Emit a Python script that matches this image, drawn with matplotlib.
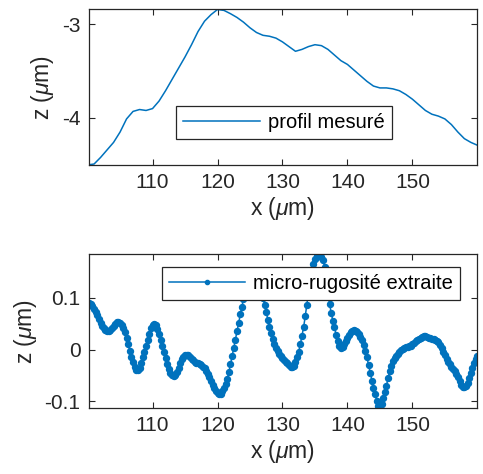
import numpy as np
import matplotlib
matplotlib.use("Agg")
import matplotlib.pyplot as plt

# ---- data ----
z_profile = [-4.50, -4.49, -4.42, -4.34, -4.26, -4.15, -4.01, -3.93, -3.91, -3.92,
             -3.90, -3.82, -3.71, -3.59, -3.47, -3.35, -3.22, -3.08, -2.97, -2.90,
             -2.845, -2.855, -2.89, -2.93, -2.98, -3.04, -3.09, -3.12, -3.13, -3.15,
             -3.19, -3.24, -3.29, -3.27, -3.24, -3.22, -3.23, -3.27, -3.33, -3.39,
             -3.43, -3.49, -3.55, -3.61, -3.66, -3.68, -3.68, -3.69, -3.71, -3.75,
             -3.80, -3.86, -3.92, -3.96, -3.98, -4.01, -4.07, -4.15, -4.22, -4.26,
             -4.29]
x_profile = 100 + 1.0 * np.arange(len(z_profile))

z_rough = [
    0.089, 0.090, 0.088, 0.084, 0.078, 0.072, 0.066, 0.059,      # 100-101.75
    0.052, 0.046, 0.041, 0.037, 0.035, 0.035, 0.037, 0.041,      # 102-103.75
    0.046, 0.050, 0.053, 0.054, 0.052, 0.048, 0.041, 0.033,      # 104-105.75
    0.022, 0.010, -0.002, -0.014, -0.025, -0.034, -0.039, -0.040,  # 106-107.75
    -0.035, -0.026, -0.015, -0.004, 0.007, 0.019, 0.031, 0.042,  # 108-109.75
    0.048, 0.050, 0.047, 0.040, 0.030, 0.019, 0.007, -0.005,     # 110-111.75
    -0.017, -0.028, -0.038, -0.046, -0.050, -0.052, -0.050, -0.044,  # 112-113.75
    -0.036, -0.027, -0.019, -0.014, -0.011, -0.010, -0.011, -0.014,  # 114-115.75
    -0.018, -0.021, -0.024, -0.026, -0.027, -0.028, -0.030, -0.033,  # 116-117.75
    -0.036, -0.041, -0.047, -0.054, -0.061, -0.068, -0.075, -0.081,  # 118-119.75
    -0.085, -0.087, -0.086, -0.081, -0.074, -0.066, -0.057, -0.044,  # 120-121.75
    -0.029, -0.013, 0.003, 0.019, 0.035, 0.052, 0.068, 0.083,    # 122-123.75
    0.097, 0.109, 0.118, 0.125, 0.130, 0.134, 0.136, 0.136,      # 124-125.75
    0.133, 0.128, 0.120, 0.111, 0.100, 0.087, 0.072, 0.058,      # 126-127.75
    0.044, 0.032, 0.021, 0.011, 0.003, -0.003, -0.008, -0.012,   # 128-129.75
    -0.016, -0.020, -0.024, -0.027, -0.030, -0.033, -0.034, -0.032,  # 130-131.75
    -0.025, -0.015, -0.004, 0.010, 0.026, 0.043, 0.064, 0.087,   # 132-133.75
    0.110, 0.131, 0.150, 0.165, 0.175, 0.181, 0.184, 0.184,      # 134-135.75
    0.180, 0.173, 0.160, 0.138, 0.112, 0.089, 0.071, 0.056,      # 136-137.75
    0.043, 0.029, 0.016, 0.006, 0.002, 0.004, 0.010, 0.017,      # 138-139.75
    0.023, 0.028, 0.033, 0.036, 0.037, 0.036, 0.034, 0.030,      # 140-141.75
    0.025, 0.018, 0.008, -0.003, -0.015, -0.030, -0.046, -0.061,  # 142-143.75
    -0.074, -0.086, -0.099, -0.109, -0.112, -0.106, -0.094, -0.082,  # 144-145.75
    -0.070, -0.056, -0.042, -0.031, -0.023, -0.017, -0.012, -0.008,  # 146-147.75
    -0.004, -0.001, 0.001, 0.003, 0.004, 0.005, 0.006, 0.007,    # 148-149.75
    0.010, 0.013, 0.016, 0.019, 0.021, 0.023, 0.025, 0.026,      # 150-151.75
    0.026, 0.024, 0.023, 0.022, 0.021, 0.020, 0.019, 0.017,      # 152-153.75
    0.014, 0.009, 0.002, -0.005, -0.011, -0.018, -0.024, -0.029,  # 154-155.75
    -0.034, -0.038, -0.042, -0.047, -0.054, -0.062, -0.068, -0.072,  # 156-157.75
    -0.073, -0.071, -0.064, -0.055, -0.046, -0.036, -0.027, -0.019,  # 158-159.75
    -0.012,                                                      # 160
]
x_rough = 100 + 0.25 * np.arange(len(z_rough))

xticks = [110, 120, 130, 140, 150]
yticks_top = [-4, -3]
yticks_bot = [-0.1, 0, 0.1]
ytick_labels_top = ["-4", "-3"]
ytick_labels_bot = ["-0.1", "0", "0.1"]

# ---- style ----
plt.rcParams['font.family'] = ['Liberation Sans', 'DejaVu Sans']
plt.rcParams['mathtext.fontset'] = 'custom'
plt.rcParams['mathtext.it'] = 'Liberation Sans:italic'
plt.rcParams['mathtext.rm'] = 'Liberation Sans'
plt.rcParams['axes.unicode_minus'] = False

blue = '#0072BD'
axcol = '#262626'
fs_tick = 15
fs_label = 16.5
fs_leg = 14.5

fig = plt.figure(figsize=(4.83, 4.74), dpi=100)
ax1 = fig.add_axes([0.184, 0.652, 0.803, 0.329])
ax2 = fig.add_axes([0.184, 0.139, 0.803, 0.325])

def style(ax):
    for s in ax.spines.values():
        s.set_color(axcol)
        s.set_linewidth(0.9)
    ax.tick_params(direction='in', length=4, width=0.8, colors=axcol,
                   labelsize=fs_tick, top=True, right=True, pad=6)

# top
ax1.plot(x_profile, z_profile, color=blue, lw=1.1, label='profil mesuré')
ax1.set_xlim(100.2, 159.9)
ax1.set_ylim(-4.5, -2.84)
ax1.set_xticks(xticks)
ax1.set_yticks(yticks_top)
ax1.set_yticklabels(ytick_labels_top)
ax1.set_xlabel(r'x ($\mu$m)', fontsize=fs_label, color=axcol, labelpad=2)
ax1.set_ylabel(r'z ($\mu$m)', fontsize=fs_label, color=axcol, labelpad=4)
style(ax1)
leg1 = ax1.legend(loc='center', bbox_to_anchor=(0.5035, 0.2725), fontsize=fs_leg,
                  handlelength=3.8, fancybox=False, framealpha=1,
                  edgecolor=axcol, borderpad=0.35, handletextpad=0.4)
leg1.get_frame().set_linewidth(0.9)

# bottom
ax2.plot(x_rough, z_rough, color=blue, lw=1.1, marker='o', markersize=4.3,
         label='micro-rugosité extraite')
ax2.set_xlim(100.2, 159.9)
ax2.set_ylim(-0.1136, 0.185)
ax2.set_xticks(xticks)
ax2.set_yticks(yticks_bot)
ax2.set_yticklabels(ytick_labels_bot)
ax2.set_xlabel(r'x ($\mu$m)', fontsize=fs_label, color=axcol, labelpad=2)
ax2.set_ylabel(r'z ($\mu$m)', fontsize=fs_label, color=axcol, labelpad=4)
style(ax2)
leg2 = ax2.legend(loc='center', bbox_to_anchor=(0.5725, 0.8065), fontsize=fs_leg,
                  handlelength=3.8, fancybox=False, framealpha=1,
                  edgecolor=axcol, borderpad=0.35, handletextpad=0.4,
                  markerscale=0.7)
leg2.get_frame().set_linewidth(0.9)

fig.savefig('out.png', dpi=100)
